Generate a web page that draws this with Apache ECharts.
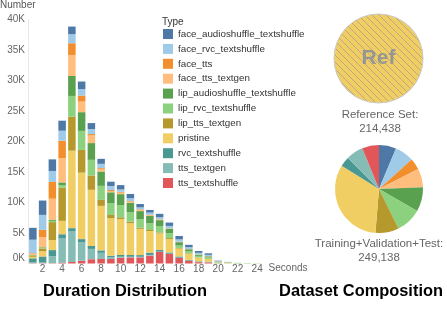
<!DOCTYPE html>
<html><head><meta charset="utf-8">
<script src="https://cdn.jsdelivr.net/npm/echarts@6/dist/echarts.min.js"></script>
<style>html,body{margin:0;padding:0;background:#fff}#c{width:447px;height:310px}</style>
</head><body><div id="c"></div>
<script>
// ---- data ----
const seconds = ['1','2','3','4','5','6','7','8','9','10','11','12','13','14','15','16','17','18','19','20','21','22','23','24'];
const typeNames = ['face_audioshuffle_textshuffle','face_rvc_textshuffle','face_tts','face_tts_textgen','lip_audioshuffle_textshuffle','lip_rvc_textshuffle','lip_tts_textgen','pristine','rvc_textshuffle','tts_textgen','tts_textshuffle'];
const typeColors = ['#4e79a7','#a0cbe8','#f28e2b','#ffbe7d','#59a14f','#8cd17d','#b6992d','#f1ce63','#499894','#86bcb6','#e15759'];

const faceAudio      = [1950,2350,1900,1640,1250,1250,980,820,710,710,710,550,440,550,550,550,380,300,250,80,20,0,0,0];
const faceRvc        = [2200,2460,1800,1640,1480,1050,820,710,660,390,440,330,380,330,380,380,300,250,200,60,20,10,0,0];
const faceTts        = [100,1200,2740,2840,1920,980,230,160,160,130,100,100,50,50,30,30,20,20,20,10,0,0,0,0];
const faceTtsTextgen = [200,1640,3440,4000,3440,1740,1250,390,210,250,180,180,120,100,50,50,30,30,30,20,30,10,10,0];
const lipAudio       = [50,100,200,450,3280,3070,2740,2350,1800,1800,1570,1310,1200,980,710,550,300,200,180,50,30,20,10,10];
const lipRvc         = [50,100,200,380,3390,3120,2570,2300,1920,2000,1540,1420,1100,1040,820,400,350,250,220,60,70,50,50,30];
const lipTts         = [200,450,2950,5470,5580,3720,2350,980,540,280,260,180,160,160,160,100,80,50,40,20,10,0,0,0];
const pristine       = [250,870,1640,2190,12700,10900,9200,7300,6130,5900,5200,4300,3550,2700,2200,1300,1000,600,450,100,50,20,10,10];
const rvcText        = [600,1000,1000,700,550,550,490,400,260,280,300,280,380,280,200,200,120,80,60,20,10,0,0,0];
const ttsTextgen     = [200,100,1150,4000,5000,3000,1690,1000,280,160,100,100,100,50,50,50,30,50,40,20,10,0,0,0];
const ttsText        = [50,50,50,100,250,450,700,750,740,950,1000,1000,1300,1900,1560,900,450,220,180,20,10,0,0,0];
const seriesValues = [faceAudio,faceRvc,faceTts,faceTtsTextgen,lipAudio,lipRvc,lipTts,pristine,rvcText,ttsTextgen,ttsText];

// composition pie (legend order)
const compCounts = [15700,17440,10460,17190,22170,23420,21430,81208,8970,15700,15450];
const refTotal = 214438;

// ---- chart ----
const FONT = '"Liberation Sans", Arial, sans-serif';
const chart = echarts.init(document.getElementById('c'), null, {renderer:'canvas'});

// hatch pattern for reference circle
const tile = document.createElement('canvas');
tile.width = 7; tile.height = 7;
const g = tile.getContext('2d');
g.fillStyle = '#f1ce63'; g.fillRect(0,0,7,7);
g.strokeStyle = 'rgba(150,150,150,0.7)'; g.lineWidth = 0.9;
g.beginPath();
g.moveTo(0,0); g.lineTo(7,7);
g.moveTo(-1,6); g.lineTo(1,8);
g.moveTo(6,-1); g.lineTo(8,1);
g.stroke();

const barSeries = [];
for (let i = typeNames.length - 1; i >= 0; i--) {
  barSeries.push({
    type:'bar', name:typeNames[i], stack:'total', data:seriesValues[i],
    itemStyle:{color:typeColors[i]}, barCategoryGap:'23%'
  });
}
const compTotal = compCounts.reduce((a,b)=>a+b,0);
const fmt = n => n.toLocaleString('en-US');

chart.setOption({
  animation:false,
  textStyle:{fontFamily:FONT},
  grid:{left:28, top:19.5, width:234, height:244},
  legend:{
    orient:'vertical', left:163, top:29, padding:0,
    itemWidth:10, itemHeight:10, itemGap:4.9, icon:'rect',
    data:typeNames,
    textStyle:{fontSize:9.8, color:'#333', fontFamily:FONT}
  },
  xAxis:{
    type:'category', data:seconds,
    name:'Seconds', nameLocation:'end', nameGap:2,
    nameTextStyle:{fontSize:10, color:'#666', verticalAlign:'top', padding:[0,0,0,0]},
    axisLine:{show:false}, axisTick:{show:false},
    axisLabel:{fontSize:10, color:'#666', margin:1, interval:(i)=>i%2===1}
  },
  yAxis:{
    type:'value', min:0, max:40000, interval:5000,
    axisLine:{show:true, lineStyle:{color:'#e8e8e8'}}, axisTick:{show:false},
    splitLine:{show:false},
    axisLabel:{margin:3, fontSize:10, color:'#666',
      formatter:(v)=> v===0 ? '{z|0K}' : (v/1000)+'K',
      rich:{z:{fontSize:10, color:'#666', padding:[0,0,10,0], fontFamily:FONT}}}
  },
  series:[
    ...barSeries,
    {
      type:'pie', name:'Reference Set', center:[378.5,58.5], radius:44.5,
      silent:true, label:{show:true, position:'center', formatter:'Ref', fontSize:21, fontWeight:'bold', color:'#959595', fontFamily:FONT},
      labelLine:{show:false},
      data:[{name:'Reference Set', value:refTotal, itemStyle:{color:{image:tile, repeat:'repeat'}, borderColor:'#c8c8c8', borderWidth:1}}]
    },
    {
      type:'pie', name:'Training+Validation+Test', center:[379,189], radius:44,
      startAngle:90, clockwise:true, silent:true,
      label:{show:false}, labelLine:{show:false},
      data:typeNames.map((n,i)=>({name:n, value:compCounts[i], itemStyle:{color:typeColors[i]}}))
    }
  ],
  graphic:[
    {type:'text', x:0, y:5.5, style:{text:'Number', font:'10px '+FONT, fill:'#555', verticalAlign:'middle'}},
    {type:'text', x:162, y:22, style:{text:'Type', font:'10px '+FONT, fill:'#333', verticalAlign:'middle'}},
    {type:'text', x:380, y:115, style:{text:'Reference Set:', font:'11.5px '+FONT, fill:'#666', align:'center', verticalAlign:'middle'}},
    {type:'text', x:380, y:128.5, style:{text:fmt(refTotal), font:'11.5px '+FONT, fill:'#666', align:'center', verticalAlign:'middle'}},
    {type:'text', x:379, y:243.5, style:{text:'Training+Validation+Test:', font:'11.5px '+FONT, fill:'#666', align:'center', verticalAlign:'middle'}},
    {type:'text', x:379, y:257.5, style:{text:fmt(compTotal), font:'11.5px '+FONT, fill:'#666', align:'center', verticalAlign:'middle'}},
    {type:'text', x:125, y:291.5, style:{text:'Duration Distribution', font:'bold 16.4px '+FONT, fill:'#000', align:'center', verticalAlign:'middle'}},
    {type:'text', x:361, y:291.5, style:{text:'Dataset Composition', font:'bold 16.4px '+FONT, fill:'#000', align:'center', verticalAlign:'middle'}}
  ]
});
</script></body></html>
